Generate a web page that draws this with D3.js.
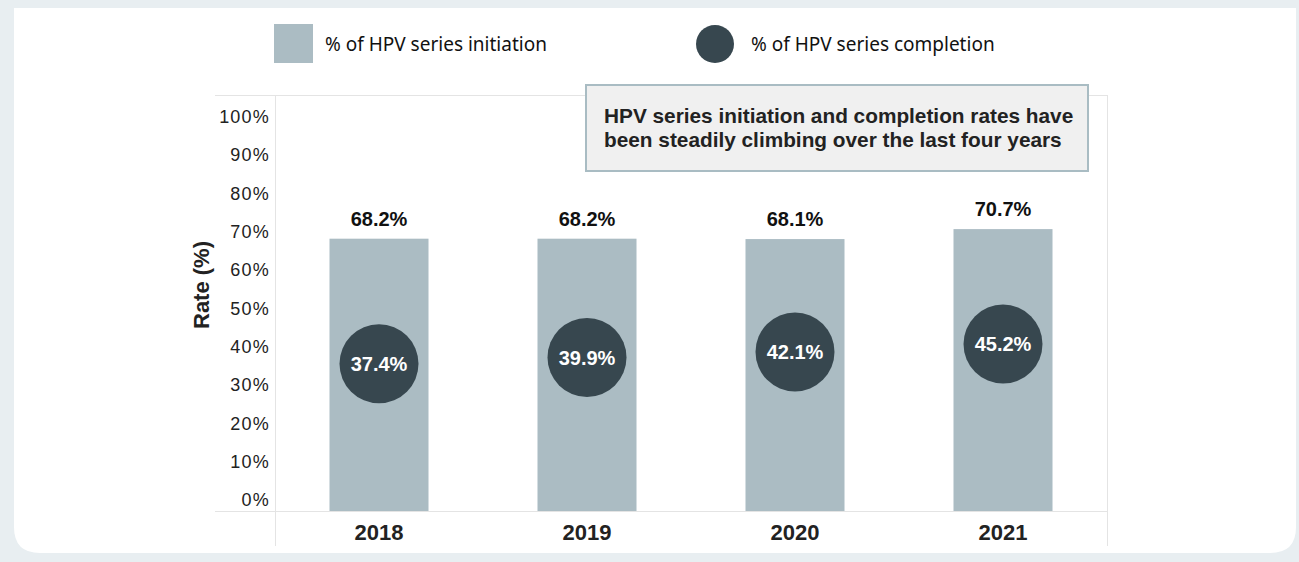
<!DOCTYPE html>
<html>
<head>
<meta charset="utf-8">
<script src="https://cdn.jsdelivr.net/npm/d3@7"></script>
<style>
  html, body { margin: 0; padding: 0; background: #e8eef1; }
  svg { display: block; }
</style>
</head>
<body>
<svg id="chart" width="1299" height="562"></svg>
<script>
// HPV vaccination series rates by year
const years = ["2018", "2019", "2020", "2021"];
const initiation = [68.2, 68.2, 68.1, 70.7];
const completion = [37.4, 39.9, 42.1, 45.2];
const yTicks = [0, 10, 20, 30, 40, 50, 60, 70, 80, 90, 100];
const legendLabels = ["% of HPV series initiation", "% of HPV series completion"];
const noteLines = [
  "HPV series initiation and completion rates have",
  "been steadily climbing over the last four years"
];
const axisTitle = "Rate (%)";

const barColor = "#abbcc3";
const dotColor = "#37474f";
const lineColor = "#e4e4e4";
const sans = "'Liberation Sans', Arial, sans-serif";
const legendFont = "'Noto Sans', 'Open Sans', sans-serif";

const svg = d3.select("#chart");

// white card with rounded lower corners
const cx0 = 14, cx1 = 1296, cy0 = 8, cy1 = 553, r = 26;
svg.append("path")
  .attr("d", `M${cx0},${cy0} H${cx1} V${cy1 - r} Q${cx1},${cy1} ${cx1 - r},${cy1} H${cx0 + r} Q${cx0},${cy1} ${cx0},${cy1 - r} Z`)
  .attr("fill", "#ffffff");

// plot area
const plot = { left: 275, right: 1107, top: 95, bottom: 511 };

const x = d3.scaleBand()
  .domain(years)
  .range([plot.left, plot.right])
  .paddingInner(0.524)
  .paddingOuter(0.262);

// primary axis for the bars
const y = d3.scaleLinear()
  .domain([-2.87, 105.7])
  .range([plot.bottom, plot.top]);

// secondary (hidden) axis for the completion dots
const y2 = d3.scaleLinear()
  .domain([-21, 144])
  .range([plot.bottom, plot.top]);

// frame lines
const frame = svg.append("g").attr("stroke", lineColor).attr("stroke-width", 1);
frame.append("line").attr("x1", 215).attr("x2", plot.right).attr("y1", plot.top + 0.5).attr("y2", plot.top + 0.5);
frame.append("line").attr("x1", 215).attr("x2", plot.right).attr("y1", plot.bottom + 0.5).attr("y2", plot.bottom + 0.5);
frame.append("line").attr("x1", plot.left + 0.5).attr("x2", plot.left + 0.5).attr("y1", plot.top).attr("y2", 546);
frame.append("line").attr("x1", plot.right + 0.5).attr("x2", plot.right + 0.5).attr("y1", plot.top).attr("y2", 546);

// y axis
const yAxis = svg.append("g")
  .attr("transform", `translate(${plot.left},0)`)
  .call(d3.axisLeft(y).tickValues(yTicks).tickSize(0).tickPadding(5).tickFormat(d => d + "%"));
yAxis.select(".domain").remove();
yAxis.selectAll("text")
  .attr("font-family", sans)
  .attr("font-size", 18)
  .attr("letter-spacing", 1.2)
  .attr("fill", "#222");

// y axis title
svg.append("text")
  .attr("transform", `translate(209,${(plot.top + plot.bottom) / 2 - 18}) rotate(-90)`)
  .attr("text-anchor", "middle")
  .attr("font-family", sans)
  .attr("font-weight", "bold")
  .attr("font-size", 22)
  .attr("fill", "#222")
  .text(axisTitle);

// x axis
const xAxis = svg.append("g")
  .attr("transform", `translate(0,${plot.bottom})`)
  .call(d3.axisBottom(x).tickSize(0).tickPadding(13));
xAxis.select(".domain").remove();
xAxis.selectAll("text")
  .attr("font-family", sans)
  .attr("font-weight", "bold")
  .attr("font-size", 22)
  .attr("fill", "#222");

// initiation bars
svg.append("g").selectAll("rect")
  .data(years)
  .join("rect")
  .attr("x", d => x(d))
  .attr("width", x.bandwidth())
  .attr("y", (d, i) => y(initiation[i]))
  .attr("height", (d, i) => y(y.domain()[0]) - y(initiation[i]))
  .attr("fill", barColor);

// initiation labels
svg.append("g").selectAll("text")
  .data(years)
  .join("text")
  .attr("x", d => x(d) + x.bandwidth() / 2)
  .attr("y", (d, i) => y(initiation[i]) - 13)
  .attr("text-anchor", "middle")
  .attr("font-family", sans)
  .attr("font-weight", "bold")
  .attr("font-size", 20)
  .attr("fill", "#111")
  .text((d, i) => initiation[i].toFixed(1) + "%");

// completion dots
const dots = svg.append("g").selectAll("g")
  .data(years)
  .join("g")
  .attr("transform", (d, i) => `translate(${x(d) + x.bandwidth() / 2},${y2(completion[i])})`);
dots.append("circle").attr("r", 39.5).attr("fill", dotColor);
dots.append("text")
  .attr("text-anchor", "middle")
  .attr("dy", "0.36em")
  .attr("font-family", sans)
  .attr("font-weight", "bold")
  .attr("font-size", 20)
  .attr("fill", "#ffffff")
  .text((d, i) => completion[i].toFixed(1) + "%");

// annotation box
const note = svg.append("g");
note.append("rect")
  .attr("x", 586).attr("y", 85).attr("width", 502).attr("height", 86)
  .attr("fill", "#f0f0f0")
  .attr("stroke", "#a9bcc3")
  .attr("stroke-width", 2);
note.selectAll("text")
  .data(noteLines)
  .join("text")
  .attr("x", 604)
  .attr("y", (d, i) => 123 + i * 24)
  .attr("font-family", sans)
  .attr("font-weight", "bold")
  .attr("font-size", 20.8)
  .attr("fill", "#222")
  .text(d => d);

// legend
const legend = svg.append("g").attr("font-family", legendFont).attr("font-size", 19).attr("fill", "#111");
legend.append("rect").attr("x", 274).attr("y", 24).attr("width", 39).attr("height", 39).attr("fill", barColor);
legend.append("text").attr("x", 325).attr("y", 51).text(legendLabels[0]);
legend.append("circle").attr("cx", 715).attr("cy", 44).attr("r", 19).attr("fill", dotColor);
legend.append("text").attr("x", 751).attr("y", 51).text(legendLabels[1]);
</script>
</body>
</html>
